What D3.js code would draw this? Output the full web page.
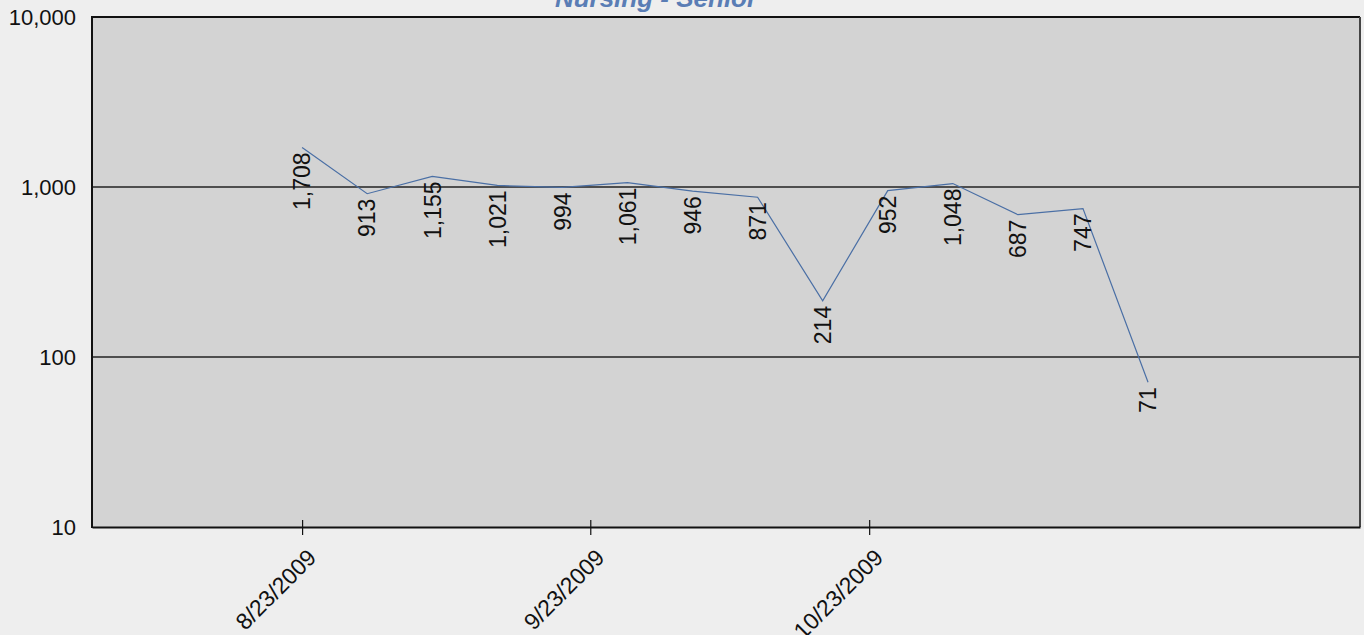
<!DOCTYPE html>
<html>
<head>
<meta charset="utf-8">
<script src="https://cdn.jsdelivr.net/npm/d3@7"></script>
<style>
  html, body { margin: 0; padding: 0; background: #eeeeee; }
  svg { display: block; font-family: "Liberation Sans", Arial, sans-serif; }
</style>
</head>
<body>
<svg id="chart" width="1364" height="635"></svg>
<script>
// ---- data ----
const dates = ["2009-08-23","2009-08-30","2009-09-06","2009-09-13","2009-09-20","2009-09-27",
               "2009-10-04","2009-10-11","2009-10-18","2009-10-25","2009-11-01","2009-11-08",
               "2009-11-15","2009-11-22"];
const values = [1708, 913, 1155, 1021, 994, 1061, 946, 871, 214, 952, 1048, 687, 747, 71];
const xTickDates = ["2009-08-23","2009-09-23","2009-10-23"];
const xTickLabels = ["8/23/2009","9/23/2009","10/23/2009"];
const yTickValues = [10, 100, 1000, 10000];
const title = "Nursing - Senior";

// ---- layout ----
const W = 1364, H = 635;
const m = { left: 92, top: 17, right: 1360, bottom: 527 };
const parse = s => { const [y, mo, d] = s.split("-").map(Number); return new Date(y, mo - 1, d); };

const svg = d3.select("#chart");
svg.append("rect").attr("width", W).attr("height", H).attr("fill", "#eeeeee");

const x = d3.scaleTime()
  .domain([new Date(2009, 6, 31, 9, 36), new Date(2009, 11, 14, 19, 12)])
  .range([m.left, m.right]);
const y = d3.scaleLog().domain([10, 10000]).range([m.bottom, m.top]);

// plot background
svg.append("rect")
  .attr("x", m.left).attr("y", m.top)
  .attr("width", m.right - m.left).attr("height", m.bottom - m.top)
  .attr("fill", "#d3d3d3");

// gridlines
svg.append("g").selectAll("line")
  .data(yTickValues.filter(v => v > 10 && v < 10000))
  .join("line")
  .attr("x1", m.left).attr("x2", m.right)
  .attr("y1", d => y(d)).attr("y2", d => y(d))
  .attr("stroke", "#222").attr("stroke-width", 1.3);

// y axis labels
const yAxis = d3.axisLeft(y).tickValues(yTickValues).tickFormat(d3.format(",")).tickSize(0).tickPadding(16);
const gy = svg.append("g").attr("transform", `translate(${m.left},0)`).call(yAxis);
gy.select(".domain").remove();
gy.selectAll("text").attr("font-size", 22).attr("fill", "#111").attr("font-family", "Liberation Sans, Arial, sans-serif");

// line
const pts = dates.map((d, i) => ({ date: parse(d), value: values[i] }));
svg.append("path")
  .datum(pts)
  .attr("fill", "none")
  .attr("stroke", "#4a6fa5")
  .attr("stroke-width", 1.2)
  .attr("d", d3.line().x(d => x(d.date)).y(d => y(d.value)));

// data labels
svg.append("g").selectAll("text")
  .data(pts)
  .join("text")
  .attr("transform", d => `translate(${x(d.date)},${y(d.value) + 5}) rotate(-90)`)
  .attr("text-anchor", "end")
  .attr("dy", "0.36em")
  .attr("font-size", 23)
  .attr("fill", "#111")
  .text(d => d3.format(",")(d.value));

// borders
const border = svg.append("g");
border.append("line").attr("x1", m.left).attr("x2", m.left).attr("y1", m.top - 1).attr("y2", m.bottom + 1)
  .attr("stroke", "#111").attr("stroke-width", 2);
border.append("line").attr("x1", m.left).attr("x2", m.right).attr("y1", m.top).attr("y2", m.top)
  .attr("stroke", "#111").attr("stroke-width", 2);
border.append("line").attr("x1", m.right).attr("x2", m.right).attr("y1", m.top).attr("y2", m.bottom)
  .attr("stroke", "#444").attr("stroke-width", 2);

// x axis
const xAxis = d3.axisBottom(x)
  .tickValues(xTickDates.map(parse))
  .tickFormat((d, i) => xTickLabels[i])
  .tickSizeInner(8).tickSizeOuter(0);
const gx = svg.append("g").attr("transform", `translate(0,${m.bottom})`).call(xAxis);
gx.select(".domain").attr("stroke", "#111").attr("stroke-width", 2.2);
gx.selectAll(".tick line").attr("y1", -7).attr("y2", 8).attr("stroke", "#111").attr("stroke-width", 1.2);
gx.selectAll(".tick text")
  .attr("font-size", 23)
  .attr("fill", "#111")
  .attr("font-family", "Liberation Sans, Arial, sans-serif")
  .attr("text-anchor", "end")
  .attr("y", 0).attr("dy", 0)
  .attr("transform", "translate(15,32) rotate(-45)");

// title
svg.append("text")
  .attr("x", 656).attr("y", 7)
  .attr("text-anchor", "middle")
  .attr("font-size", 26)
  .attr("font-weight", "bold")
  .attr("font-style", "italic")
  .attr("fill", "#5a7db5")
  .text(title);
</script>
</body>
</html>
